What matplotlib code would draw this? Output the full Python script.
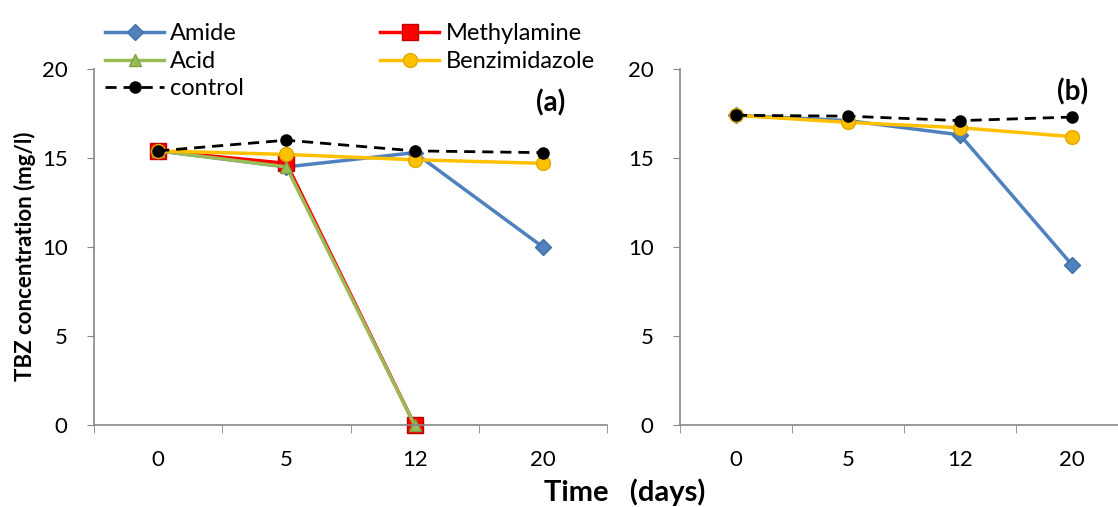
import numpy as np
import matplotlib
matplotlib.use('Agg')
import matplotlib.pyplot as plt

plt.rcParams['font.family'] = ['Lato', 'DejaVu Sans']

days = ['0', '5', '12', '20']

# panel (a)
amide_a = [15.4, 14.5, 15.3, 10.0]
methyl_a = [15.4, 14.7, 0.0]
acid_a = [15.4, 14.5, 0.0]
benz_a = [15.4, 15.2, 14.9, 14.7]
control_a = [15.4, 16.0, 15.4, 15.3]

# panel (b)
amide_b = [17.4, 17.1, 16.3, 9.0]
benz_b = [17.4, 17.0, 16.7, 16.2]
control_b = [17.4, 17.35, 17.1, 17.3]

axis_col = '#868686'
blue = '#4F81BD'
red = '#FF0000'
green = '#9BBB59'
gold = '#FFC000'

fig = plt.figure(figsize=(11.18, 5.07), dpi=100)
ax1 = fig.add_axes([94 / 1118, 82 / 507, 513 / 1118, 356 / 507])
ax2 = fig.add_axes([680 / 1118, 82 / 507, 448 / 1118, 356 / 507])


def style(ax):
    ax.set_xlim(-0.5, 3.5)
    ax.set_ylim(0, 20)
    ax.set_yticks([0, 5, 10, 15, 20])
    ax.set_xticks(range(4))
    ax.set_xticklabels(days)
    ax.set_xticks(np.arange(-0.5, 4, 1), minor=True)
    ax.tick_params(axis='x', which='major', length=0, pad=18, labelsize=16)
    ax.tick_params(axis='x', which='minor', length=6, color=axis_col, direction='out')
    ax.tick_params(axis='y', length=5, color=axis_col, pad=14, labelsize=16)
    for s in ['top', 'right']:
        ax.spines[s].set_visible(False)
    for s in ['left', 'bottom']:
        ax.spines[s].set_color(axis_col)
        ax.spines[s].set_linewidth(1.2)
    ax.patch.set_alpha(0)


x = np.arange(4)
l1, = ax1.plot(x, amide_a, color=blue, lw=2.5, marker='D', ms=8, mfc=blue, mec='#3F6FA8', label='Amide')
l2, = ax1.plot(x[:3], methyl_a, color=red, lw=2.5, marker='s', ms=11, mfc=red, mec='#C00000', label='Methylamine')
l3, = ax1.plot(x[:3], acid_a, color=green, lw=2.5, marker='^', ms=9, mfc=green, mec='#7F9F45', label='Acid')
l4, = ax1.plot(x, benz_a, color=gold, lw=2.5, marker='o', ms=10, mfc=gold, mec='#E0A800', label='Benzimidazole')
l5, = ax1.plot(x, control_a, color='black', lw=2, ls=(0, (4, 2.5)), marker='o', ms=8, mfc='black', label='control')

ax2.plot(x, amide_b, color=blue, lw=2.5, marker='D', ms=8, mfc=blue, mec='#3F6FA8')
ax2.plot(x, benz_b, color=gold, lw=2.5, marker='o', ms=10, mfc=gold, mec='#E0A800')
ax2.plot(x, control_b, color='black', lw=2, ls=(0, (4, 2.5)), marker='o', ms=8, mfc='black')

style(ax1)
style(ax2)

for ax in (ax1, ax2):
    for ln in ax.get_lines():
        ln.set_clip_on(False)

fig.text(551 / 1118, 1 - 103 / 507, '(a)', fontsize=20,
         fontweight='bold', ha='center', va='center')
fig.text(1073 / 1118, 1 - 92 / 507, '(b)', fontsize=20,
         fontweight='bold', ha='center', va='center')

fig.text(25 / 1118, 1 - 256 / 507, 'TBZ concentration (mg/l)', rotation=90, fontsize=16,
         fontweight='bold', ha='center', va='center')
fig.text(625 / 1118, 1 - 492 / 507, 'Time   (days)', fontsize=21, fontweight='bold',
         ha='center', va='center')

fig.legend([l1, l3, l5], ['Amide', 'Acid', 'control'], loc='upper left',
           bbox_to_anchor=(96 / 1118, 1 - 14 / 507), frameon=False, fontsize=17,
           handlelength=2.5, handletextpad=0.25, labelspacing=0.27, borderaxespad=0)
fig.legend([l2, l4], ['Methylamine', 'Benzimidazole'], loc='upper left',
           bbox_to_anchor=(371 / 1118, 1 - 14 / 507), frameon=False, fontsize=17,
           handlelength=2.5, handletextpad=0.25, labelspacing=0.27, borderaxespad=0)

fig.savefig('out.png', dpi=100)
